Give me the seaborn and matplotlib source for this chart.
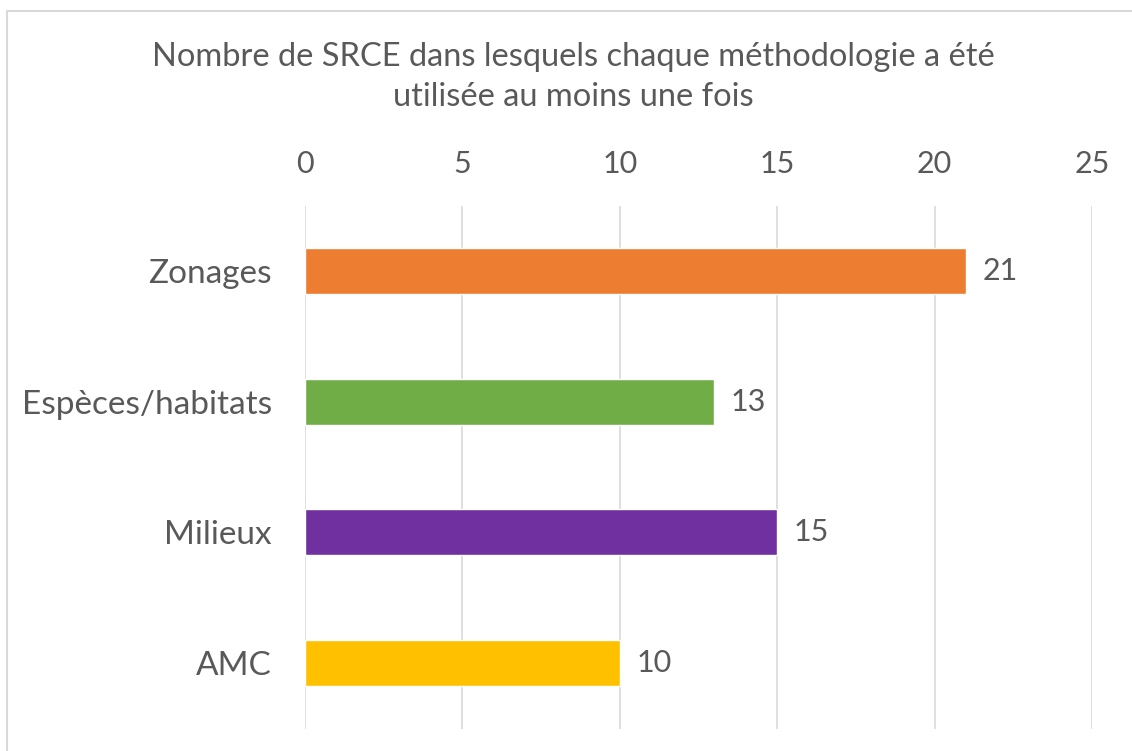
import matplotlib
matplotlib.use("Agg")
import matplotlib.pyplot as plt
import seaborn as sns
import pandas as pd

# données
categories = ["Zonages", "Espèces/habitats", "Milieux", "AMC"]
valeurs = [21, 13, 15, 10]
couleurs = ["#ED7D31", "#70AD47", "#7030A0", "#FFC000"]
ticks_x = [0, 5, 10, 15, 20, 25]
titre = "Nombre de SRCE dans lesquels chaque méthodologie a été\nutilisée au moins une fois"

sns.set_theme(style="white")
plt.rcParams['font.family'] = ['Lato', 'DejaVu Sans']
texte = "#595959"
taille = 24

df = pd.DataFrame({"cat": categories, "val": valeurs})

fig = plt.figure(figsize=(11.32, 7.51), dpi=100)
ax = fig.add_axes([305 / 1132, 1 - 728.5 / 751, (1092 - 305) / 1132, (728.5 - 205.5) / 751])

sns.barplot(data=df, x="val", y="cat", hue="cat", palette=couleurs,
            width=0.35, orient="h", ax=ax, legend=False, saturation=1)

ax.set_xlim(0, 25)
ax.set_xticks(ticks_x)
ax.xaxis.tick_top()
ax.tick_params(axis="x", length=0, pad=20, labelsize=22, labelcolor=texte)
ax.tick_params(axis="y", length=0, pad=24, labelsize=taille, labelcolor=texte)
ax.set_xlabel("")
ax.set_ylabel("")
ax.grid(axis="x", color="#D9D9D9", linewidth=1.2)
ax.set_axisbelow(True)
for s in ax.spines.values():
    s.set_visible(False)

for c in ax.containers:
    ax.bar_label(c, padding=12, fontsize=22, color=texte)

fig.text(573 / 1132, 1 - 77 / 751, titre, ha="center", va="center",
         fontsize=taille - 0.5, color=texte, linespacing=1.4)

# cadre gris clair
fig.add_artist(plt.Line2D([7 / 1132, 1], [1 - 11 / 751, 1 - 11 / 751],
                          transform=fig.transFigure, color="#D9D9D9", lw=1.5))
fig.add_artist(plt.Line2D([7 / 1132, 7 / 1132], [0, 1 - 11 / 751],
                          transform=fig.transFigure, color="#D9D9D9", lw=1.5))

fig.savefig("out.png", dpi=100)
